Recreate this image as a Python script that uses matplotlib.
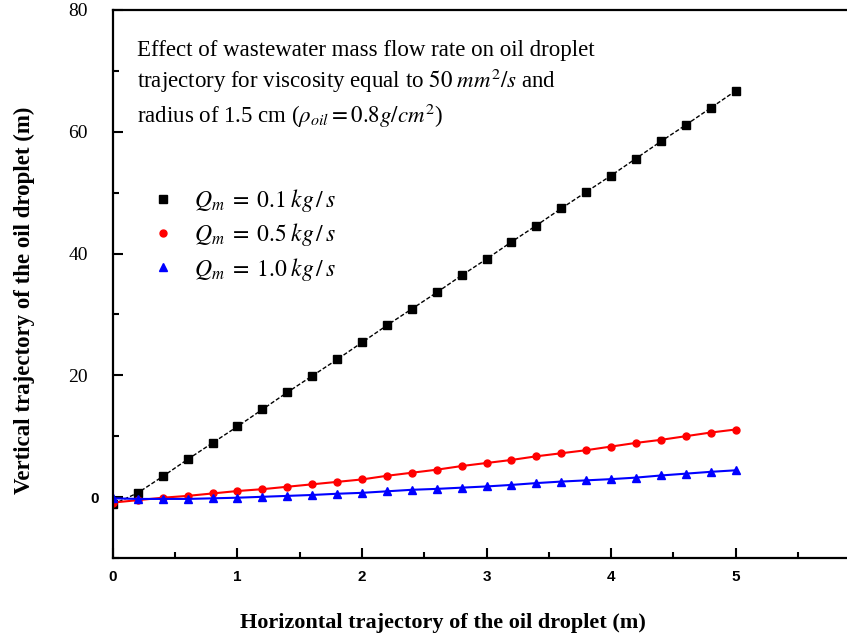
import numpy as np
import matplotlib
matplotlib.use("Agg")
import matplotlib.pyplot as plt
import matplotlib.transforms as mtransforms

plt.rcParams['mathtext.fontset'] = 'stix'

# horizontal position (m), every 0.2 m
x_pos = [0.0, 0.2, 0.4, 0.6, 0.8, 1.0, 1.2, 1.4, 1.6, 1.8, 2.0, 2.2, 2.4,
         2.6, 2.8, 3.0, 3.2, 3.4, 3.6, 3.8, 4.0, 4.2, 4.4, 4.6, 4.8, 5.0]

# vertical position (m) for each mass flow rate
y_q01 = [-1.2, 0.7, 3.4, 6.2, 8.9, 11.6, 14.4, 17.2, 19.9, 22.6, 25.4, 28.2, 30.9,
         33.6, 36.4, 39.1, 41.9, 44.6, 47.4, 50.1, 52.8, 55.6, 58.4, 61.1, 63.9, 66.7]
y_q05 = [-0.9, -0.5, -0.1, 0.2, 0.6, 1.0, 1.3, 1.7, 2.1, 2.5, 2.9, 3.5, 4.0,
         4.5, 5.1, 5.6, 6.1, 6.7, 7.2, 7.7, 8.3, 8.9, 9.4, 10.0, 10.6, 11.1]
y_q10 = [-0.2, -0.3, -0.3, -0.3, -0.2, -0.1, 0.05, 0.2, 0.35, 0.55, 0.7, 0.95, 1.2,
         1.35, 1.55, 1.75, 2.0, 2.3, 2.55, 2.75, 2.95, 3.2, 3.55, 3.85, 4.15, 4.4]

labels = [r'$Q_m\;=\;0.1\;kg\,/\,s$', r'$Q_m\;=\;0.5\;kg\,/\,s$', r'$Q_m\;=\;1.0\;kg\,/\,s$']

fig = plt.figure(figsize=(8.47, 6.38), dpi=100)
ax = fig.add_axes([0.1334, 0.1254, 0.882, 0.859])

l1, = ax.plot(x_pos, y_q01, color='black', lw=1.0, ls=(0, (3, 1.5)),
              marker='s', ms=6, label=labels[0])
l2, = ax.plot(x_pos, y_q05, color='red', lw=1.5, marker='o', ms=5, label=labels[1])
l3, = ax.plot(x_pos, y_q10, color='blue', lw=1.5, marker='^', ms=5.5, label=labels[2])

ax.set_xlim(0, 6)
ax.set_ylim(-10, 80)
ax.set_xticks([0, 1, 2, 3, 4, 5, 6])
ax.set_xticks(np.arange(0.5, 6, 1), minor=True)
ax.set_yticks([0, 20, 40, 60, 80])
ax.set_yticks([-10, 10, 30, 50, 70], minor=True)
ax.tick_params(direction='in', which='major', length=7, width=1.5)
ax.tick_params(direction='in', which='minor', length=4, width=1.5)
ax.tick_params(axis='x', pad=9)
ax.tick_params(axis='y', pad=18)
for s in ax.spines.values():
    s.set_linewidth(1.6)

for t in ax.get_xticklabels():
    t.set_fontfamily('Liberation Sans')
    t.set_fontweight('bold')
    t.set_fontsize(11)
for t in ax.get_yticklabels():
    t.set_fontfamily('Liberation Serif')
    t.set_fontsize(14)
# the zero label is drawn in bold sans, closer to the axis
ylab0 = ax.get_yticklabels()[0]
ylab0.set_fontfamily('Liberation Sans')
ylab0.set_fontweight('bold')
ylab0.set_fontsize(11)
ylab0.set_transform(ylab0.get_transform() +
                    mtransforms.ScaledTranslation(8 / 72, 0, fig.dpi_scale_trans))

ax.set_xlabel('Horizontal trajectory of the oil droplet (m)', fontfamily='Liberation Serif',
              fontweight='bold', fontsize=16, labelpad=20)
ax.xaxis.set_label_coords(0.442, -0.1)
ax.set_ylabel('Vertical trajectory of the oil droplet (m)', fontfamily='Liberation Serif',
              fontweight='bold', fontsize=16.5, labelpad=14)
ax.yaxis.set_label_coords(-0.105, 0.47)

ax.text(0.032, 0.946,
        'Effect of wastewater mass flow rate on oil droplet\n'
        r'trajectory for viscosity equal to $50\ mm^2/s$ and' '\n'
        r'radius of 1.5 cm ($\rho_{oil} = 0.8g/cm^2$)',
        transform=ax.transAxes, ha='left', va='top', fontfamily='Liberation Serif',
        fontsize=16.5, linespacing=1.3)

leg = ax.legend(handles=[l1, l2, l3], loc='upper left', bbox_to_anchor=(0.02, 0.715),
                frameon=False, fontsize=17, numpoints=1, handlelength=1.2,
                handletextpad=0.7, labelspacing=0.3)
for h in leg.get_lines():
    h.set_linestyle('None')

fig.savefig('out.png', dpi=100)
